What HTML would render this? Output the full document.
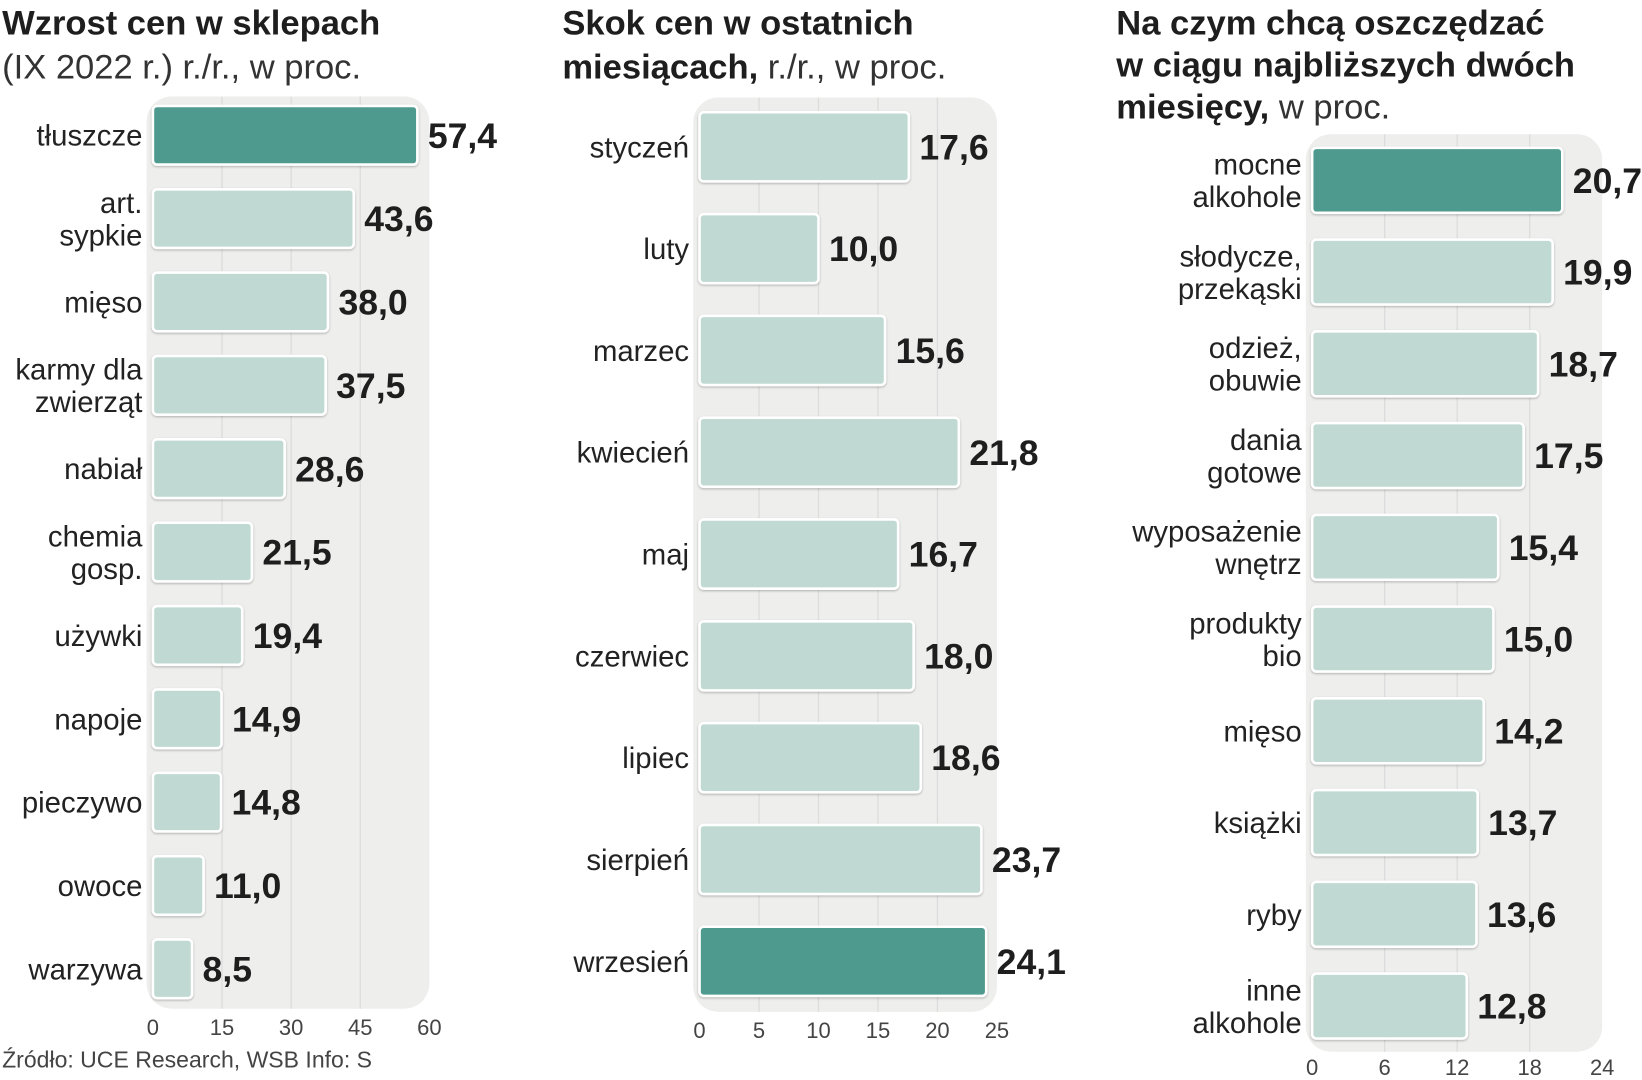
<!DOCTYPE html>
<html><head><meta charset="utf-8">
<style>
html,body{margin:0;padding:0;background:#fff;}
svg{display:block;}
text{font-family:"Liberation Sans Narrow","Liberation Sans",sans-serif;fill:#222;}
.lab{font-size:28px;}
.val{font-size:34px;font-weight:bold;fill:#1e1e1e;}
.tick{font-size:21px;fill:#444;}
.tb{font-size:33px;font-weight:bold;fill:#1e1e1e;}
.tl{font-size:33px;fill:#333;}
</style></head>
<body>
<svg id="chart" width="1642" height="1080" viewBox="0 0 1568 1030" preserveAspectRatio="none" xmlns="http://www.w3.org/2000/svg">
<g>
<text x="2" y="33" class="tb">Wzrost cen w sklepach</text>
<text x="2" y="75" class="tl">(IX 2022 r.) r./r., w proc.</text>
</g>
<g>
<text x="537" y="33" class="tb">Skok cen w ostatnich</text>
<text x="537" y="75" class="tb">miesiącach, <tspan class="tl" style="font-weight:normal">r./r., w proc.</tspan></text>
</g>
<g>
<text x="1066" y="33" class="tb">Na czym chcą oszczędzać</text>
<text x="1066" y="73" class="tb">w ciągu najbliższych dwóch</text>
<text x="1066" y="113" class="tb">miesięcy, <tspan class="tl" style="font-weight:normal">w proc.</tspan></text>
</g>
<text x="2" y="1018" style="font-size:22px;fill:#444">Źródło: UCE Research, WSB   Info: S</text>
</svg>
<script>
const cats1=["tłuszcze","art.|sypkie","mięso","karmy dla|zwierząt","nabiał","chemia|gosp.","używki","napoje","pieczywo","owoce","warzywa"];
const vals1=[57.4,43.6,38.0,37.5,28.6,21.5,19.4,14.9,14.8,11.0,8.5];
const ticks1=[0,15,30,45,60];
const cats2=["styczeń","luty","marzec","kwiecień","maj","czerwiec","lipiec","sierpień","wrzesień"];
const vals2=[17.6,10.0,15.6,21.8,16.7,18.0,18.6,23.7,24.1];
const ticks2=[0,5,10,15,20,25];
const cats3=["mocne|alkohole","słodycze,|przekąski","odzież,|obuwie","dania|gotowe","wyposażenie|wnętrz","produkty|bio","mięso","książki","ryby","inne|alkohole"];
const vals3=[20.7,19.9,18.7,17.5,15.4,15.0,14.2,13.7,13.6,12.8];
const ticks3=[0,6,12,18,24];

const NS="http://www.w3.org/2000/svg";
const svg=document.getElementById('chart');
function mk(tag,attrs,parent){const e=document.createElementNS(NS,tag);for(const k in attrs)e.setAttribute(k,attrs[k]);(parent||svg).appendChild(e);return e;}

function panel(id,cats,vals,ticks,cfg){
  const g=mk('g',{});
  
  
  const max=ticks[ticks.length-1];
  const xs=v=>cfg.x0+(v/max)*(cfg.x1-cfg.x0);
  const ys=i=>cfg.yc0+i*cfg.step;
  const bg=mk('rect',{x:cfg.x0-6,y:cfg.bgTop,width:cfg.x1-cfg.x0+6,height:cfg.bgBot-cfg.bgTop,rx:24,fill:'#eeeeed'},g);
  
  
  ticks.forEach((t,i)=>{
    if(i>0&&i<ticks.length-1){
      const l=mk('line',{x1:xs(t),x2:xs(t),y1:cfg.bgTop,y2:cfg.bgBot,stroke:'#dcdcdc','stroke-width':1.2},g);
      
      
    }
    const tx=mk('text',{x:xs(t),y:cfg.tickY,'text-anchor':'middle',class:'tick'},g);
    tx.textContent=t;
    
    
  });
  vals.forEach((v,i)=>{
    const yc=ys(i);
    const hl=(i===cfg.hi);
    const r=mk('rect',{x:cfg.x0,y:yc-cfg.bh/2,width:xs(v)-cfg.x0,height:cfg.bh,rx:4,fill:hl?'#4f9a8e':'#c0dad3',stroke:'#ffffff','stroke-width':2.5},g);
    
    
    r.style.filter='drop-shadow(0 1px 1px rgba(0,0,0,0.25))';
    const vt=mk('text',{x:xs(v)+10,y:yc+12,class:'val'},g);
    vt.textContent=v.toFixed(1).replace('.',',');
    
    
    const parts=cats[i].split('|');
    const lt=mk('text',{x:cfg.labX,y:0,'text-anchor':'end',class:'lab'},g);
    
    
    parts.forEach((p,k)=>{
      const ts=mk('tspan',{x:cfg.labX,y:yc+10+(k-(parts.length-1)/2)*31},lt);
      ts.textContent=p;
    });
  });
}
panel('chart-price-growth',cats1,vals1,ticks1,{x0:146,x1:410,yc0:129,step:79.5,bh:56,labX:136,tickY:987,bgTop:92,bgBot:962,hi:0});
panel('chart-monthly-jump',cats2,vals2,ticks2,{x0:668,x1:952,yc0:140,step:97.1,bh:66,labX:658,tickY:990,bgTop:93,bgBot:965,hi:8});
panel('chart-savings',cats3,vals3,ticks3,{x0:1253,x1:1530,yc0:172,step:87.5,bh:62,labX:1243,tickY:1025,bgTop:128,bgBot:1003,hi:0});
</script>
</body></html>
